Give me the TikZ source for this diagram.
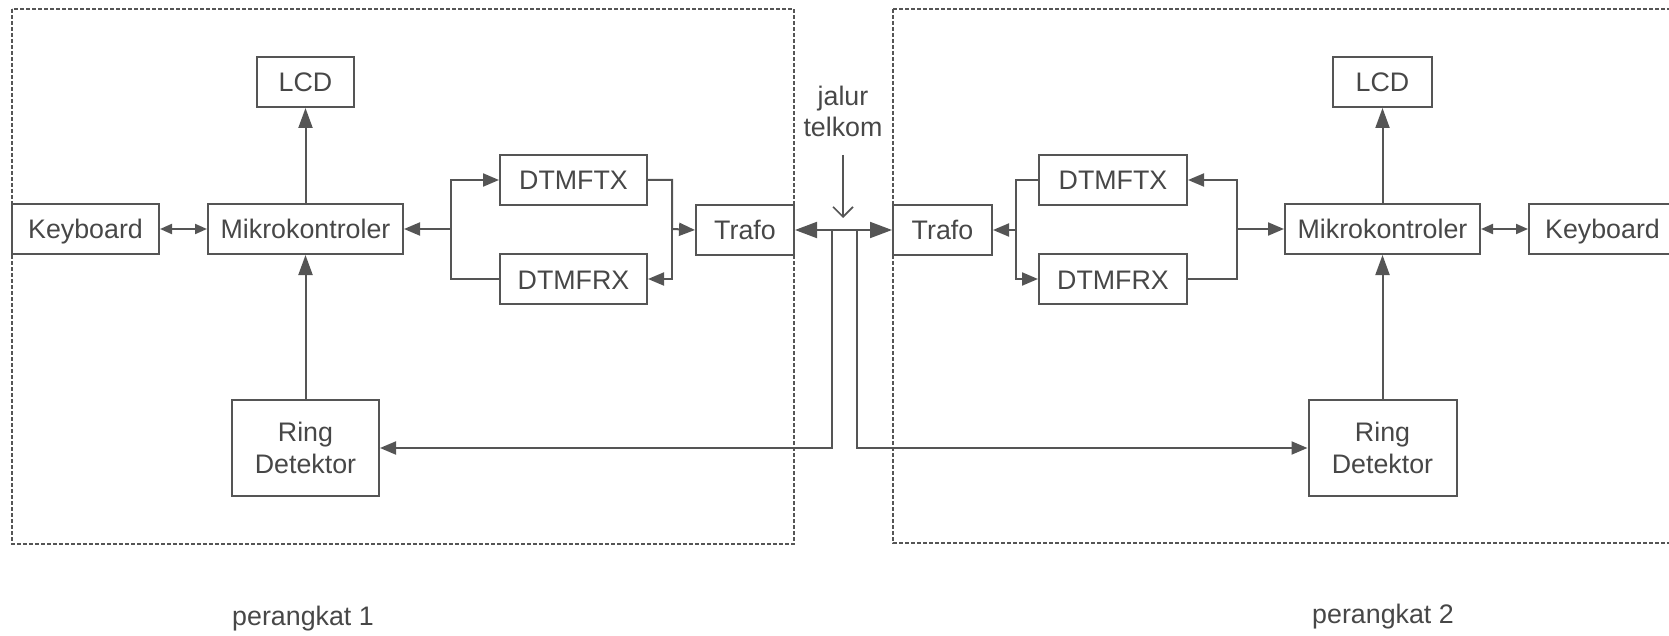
\documentclass[tikz,border=0pt]{standalone}
\usepackage{fontspec}
\setmainfont{Liberation Sans}
\usetikzlibrary{arrows.meta}
\definecolor{ink}{HTML}{555555}
\definecolor{txt}{HTML}{474747}

\begin{document}
\begin{tikzpicture}[x=0.5pt,y=-0.5pt,
  blk/.style={draw=ink, line width=1pt, minimum height=25pt, inner sep=0pt,
    text=txt, font=\fontsize{13.4}{16}\selectfont, align=center},
  one/.style={text height=10pt, text depth=0pt},
  wire/.style={draw=ink, line width=1pt},
  tip/.style={-{Triangle[length=8pt,width=6.5pt]}},
  uptip/.style={-{Triangle[length=10pt,width=7pt]}},
  tips/.style={{Triangle[length=6pt,width=5pt]}-{Triangle[length=6pt,width=5pt]}},
  bigtips/.style={{Triangle[length=11pt,width=8pt]}-{Triangle[length=11pt,width=8pt]}},
  frame/.style={draw=ink, line width=1pt, dash pattern=on 2pt off 1pt},
  lbl/.style={text=txt, font=\fontsize{13.4}{15.5}\selectfont, align=center, inner sep=0pt}]

\useasboundingbox (0,0) rectangle (1669,636);
\clip (0,0) rectangle (1669,636);

% outer frames of the two devices
\draw[frame] (12,9) rectangle (794,544);
\draw[frame] (893,9) rectangle (1720,543);

% device 1
\node[blk, one, minimum width=73.5pt] (kb1) at (85.5,229) {Keyboard};
\node[blk, one, minimum width=97.5pt] (mc1) at (305.5,229) {Mikrokontroler};
\node[blk, one, minimum width=48.5pt] (lcd1) at (305.5,82) {LCD};
\node[blk, one, minimum width=73.5pt] (tx1) at (573.5,180) {DTMFTX};
\node[blk, one, minimum width=73.5pt] (rx1) at (573.5,279) {DTMFRX};
\node[blk, one, minimum width=49pt] (tr1) at (745,230) {Trafo};
\node[blk, minimum width=73.5pt, minimum height=48pt] (rd1) at (305.5,448) {Ring\\Detektor};

% device 2
\node[blk, one, minimum width=73.5pt] (kb2) at (1602.5,229) {Keyboard};
\node[blk, one, minimum width=97.5pt] (mc2) at (1382.5,229) {Mikrokontroler};
\node[blk, one, minimum width=49.5pt] (lcd2) at (1382.5,82) {LCD};
\node[blk, one, minimum width=74pt] (tx2) at (1113,180) {DTMFTX};
\node[blk, one, minimum width=74pt] (rx2) at (1113,279) {DTMFRX};
\node[blk, one, minimum width=49.5pt] (tr2) at (942.5,230) {Trafo};
\node[blk, minimum width=74pt, minimum height=48pt] (rd2) at (1382.5,448) {Ring\\Detektor};

% branch points
\coordinate (b1) at (451,229);
\coordinate (b2) at (672,229);
\coordinate (b3) at (1016,230);
\coordinate (b4) at (1237,229);
\coordinate (jl) at (832,230);
\coordinate (jr) at (857,230);

% telephone line label and its pointer
\node[lbl] (tk) at (843,111) {jalur\\telkom};
\coordinate (tka) at (843,155);
\coordinate (tkb) at (843,218);
\draw[wire, line width=0.8pt, -{Straight Barb[length=5pt,width=10pt]}] (tka) -- (tkb);

% device 1 connections
\draw[wire,tips] (kb1) -- (mc1);
\draw[wire,uptip] (mc1) -- (lcd1);
\draw[wire,uptip] (rd1) -- (mc1);
\draw[wire,tip] (rx1.west) -| (b1) -- (mc1.east);
\draw[wire,tip] (b1) |- (tx1.west);
\draw[wire,tip] (tx1.east) -| (b2) -- (tr1.west);
\draw[wire,tip] (b2) |- (rx1.east);

% telephone line
\draw[wire,bigtips] (tr1.east) -- (tr2.west);
\draw[wire,tip] (jl) |- (rd1.east);
\draw[wire,tip] (jr) |- (rd2.west);

% device 2 connections
\draw[wire,tip] (tx2.west) -| (b3) -- (tr2.east);
\draw[wire,tip] (b3) |- (rx2.west);
\draw[wire,tip] (rx2.east) -| (b4) -- (mc2.west);
\draw[wire,tip] (b4) |- (tx2.east);
\draw[wire,tips] (mc2) -- (kb2);
\draw[wire,uptip] (mc2) -- (lcd2);
\draw[wire,uptip] (rd2) -- (mc2);

% device captions
\node[lbl, anchor=base] (p1) at (303,625) {perangkat 1};
\node[lbl, anchor=base] (p2) at (1383,623) {perangkat 2};
\end{tikzpicture}
\end{document}
